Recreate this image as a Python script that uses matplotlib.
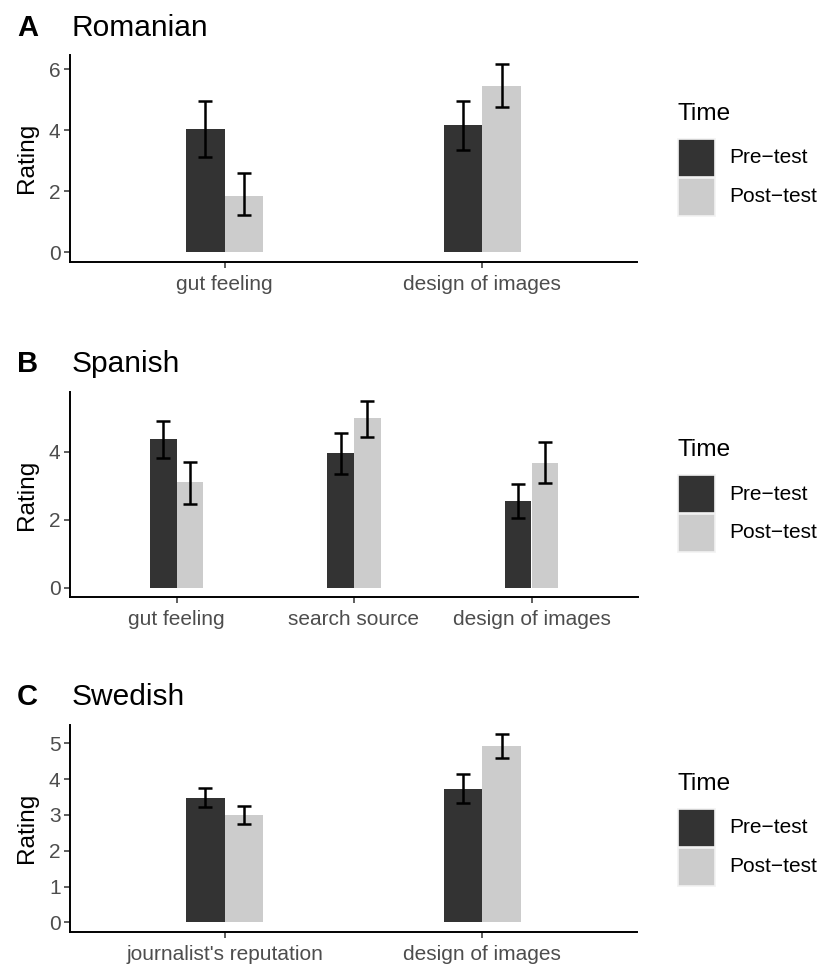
import matplotlib
matplotlib.use("Agg")
import matplotlib.pyplot as plt
from matplotlib.patches import Rectangle
import numpy as np

plt.rcParams['font.family'] = ['Liberation Sans', 'DejaVu Sans']

# ---------------- data ----------------
time_levels = ["Pre\u2212test", "Post\u2212test"]

rom_items = ["gut feeling", "design of images"]
rom_pre = [4.04, 4.17]
rom_pre_lo = [3.13, 3.36]
rom_pre_hi = [4.96, 4.96]
rom_post = [1.85, 5.46]
rom_post_lo = [1.23, 4.76]
rom_post_hi = [2.59, 6.16]
rom_yticks = [0, 2, 4, 6]

spa_items = ["gut feeling", "search source", "design of images"]
spa_pre = [4.36, 3.95, 2.55]
spa_pre_lo = [3.81, 3.35, 2.06]
spa_pre_hi = [4.90, 4.53, 3.05]
spa_post = [3.10, 4.97, 3.66]
spa_post_lo = [2.45, 4.44, 3.07]
spa_post_hi = [3.68, 5.48, 4.29]
spa_yticks = [0, 2, 4]

swe_items = ["journalist's reputation", "design of images"]
swe_pre = [3.47, 3.73]
swe_pre_lo = [3.21, 3.32]
swe_pre_hi = [3.75, 4.15]
swe_post = [3.00, 4.93]
swe_post_lo = [2.75, 4.58]
swe_post_hi = [3.26, 5.25]
swe_yticks = [0, 1, 2, 3, 4, 5]

panels = [
    ("A", "Romanian", rom_items, rom_pre, rom_pre_lo, rom_pre_hi,
     rom_post, rom_post_lo, rom_post_hi, rom_yticks),
    ("B", "Spanish", spa_items, spa_pre, spa_pre_lo, spa_pre_hi,
     spa_post, spa_post_lo, spa_post_hi, spa_yticks),
    ("C", "Swedish", swe_items, swe_pre, swe_pre_lo, swe_pre_hi,
     swe_post, swe_post_lo, swe_post_hi, swe_yticks),
]

# ---------------- layout ----------------
W, H, DPI = 819, 967, 100
fig = plt.figure(figsize=(W / DPI, H / DPI), dpi=DPI)

# axes boxes in pixels (left, top, right, bottom), title baselines
boxes = [(70, 55, 637, 261.7), (70, 391.7, 638, 597.3), (70, 725, 637, 931.7)]
title_base = [36, 371.7, 705]

PRE_COL = "#333333"
POST_COL = "#CCCCCC"
TXT_GRAY = "#4D4D4D"


def fx(x):
    return x / W


def fy(y):
    return 1 - y / H


for (tag, title, items, pre, pre_lo, pre_hi, post, post_lo, post_hi, yt), \
        (l, t, r, b), tb in zip(panels, boxes, title_base):
    ax = fig.add_axes([fx(l), fy(b), (r - l) / W, (b - t) / H])
    n = len(items)
    x = np.arange(1, n + 1)
    pre = np.array(pre); post = np.array(post)
    pre_lo = np.array(pre_lo); pre_hi = np.array(pre_hi)
    post_lo = np.array(post_lo); post_hi = np.array(post_hi)
    bw = 0.15
    ax.bar(x - bw / 2, pre, width=bw, color=PRE_COL, zorder=2)
    ax.bar(x + bw / 2, post, width=bw, color=POST_COL, zorder=2)
    ax.errorbar(x - bw / 2, pre, yerr=[pre - pre_lo, pre_hi - pre], fmt="none",
                ecolor="black", elinewidth=1.8, capsize=5, capthick=1.8, zorder=3)
    ax.errorbar(x + bw / 2, post, yerr=[post - post_lo, post_hi - post], fmt="none",
                ecolor="black", elinewidth=1.8, capsize=5, capthick=1.8, zorder=3)

    ymax = max(pre_hi.max(), post_hi.max())
    ax.set_ylim(-0.05 * ymax, 1.05 * ymax)
    ax.set_xlim(0.4, n + 0.6)
    ax.set_xticks(x)
    ax.set_xticklabels(items)
    ax.set_yticks(yt)
    ax.tick_params(axis="both", length=4.3, width=1.1, color="#333333",
                   labelsize=15, labelcolor=TXT_GRAY, pad=2.5)
    ax.tick_params(axis="x", pad=5.2)
    for s in ["top", "right"]:
        ax.spines[s].set_visible(False)
    for s in ["left", "bottom"]:
        ax.spines[s].set_linewidth(1.4)
        ax.spines[s].set_color("black")
    ax.set_ylabel("Rating", fontsize=17.6, va="center", color="black")
    ax.yaxis.set_label_coords((26.7 - l) / (r - l), 0.5)

    # titles
    fig.text(fx(17), fy(tb), tag, fontsize=21, fontweight="bold", va="baseline", ha="left")
    fig.text(fx(72), fy(tb), title, fontsize=21.5, va="baseline", ha="left")

    # legend (manual, ggplot-like)
    cy = (t + b) / 2
    fig.text(fx(678), fy(cy - 38), "Time", fontsize=17.6, va="baseline", ha="left")
    key_tops = [cy - 19.5, cy + 19.5]
    for lab, col, kt in zip(time_levels, [PRE_COL, POST_COL], key_tops):
        fig.patches.append(Rectangle((fx(678), fy(kt + 38)), 37 / W, 38 / H,
                                     transform=fig.transFigure, facecolor=col,
                                     edgecolor="#F2F2F2", linewidth=1.2))
        fig.text(fx(729), fy(kt + 19), lab, fontsize=15, va="center", ha="left")

fig.savefig("out.png", dpi=DPI)
